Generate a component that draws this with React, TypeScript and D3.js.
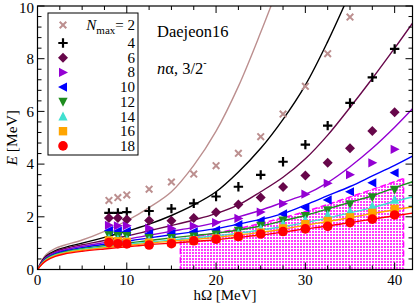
import React from "react";
import * as d3 from "d3";

const hw = [8, 9, 10, 12.5, 15, 17.5, 20, 22.5, 25, 27.5, 30, 32.5, 35, 37.5, 40];
const nmax = [2, 4, 6, 8, 10, 12, 14, 16, 18];
const colors = ["#bc8f8f", "#000000", "#67074a", "#9400d3", "#0000ff", "#1e8c1e", "#40e0d0", "#ffa500", "#ff0000"];

// marker values (E in MeV) at hw values; null = off chart
const pts2 = [2.62, 2.73, 2.83, 3.05, 3.32, 3.62, 3.94, 4.41, 5.04, 5.9, 6.95, 8.19, 9.58, null, null];
const pts4 = [2.15, 2.15, 2.18, 2.22, 2.31, 2.51, 2.77, 3.14, 3.59, 4.09, 4.74, 5.46, 6.32, 7.29, 8.37];
const pts6 = [1.95, 1.95, 1.9, 1.86, 1.85, 1.95, 2.17, 2.47, 2.73, 3.13, 3.57, 4.05, 4.6, 5.26, 5.97];
const pts8 = [1.68, 1.66, 1.66, 1.57, 1.56, 1.65, 1.78, 1.94, 2.18, 2.5, 2.86, 3.27, 3.6, 4.05, 4.56];
const pts10 = [1.48, 1.46, 1.45, 1.36, 1.36, 1.43, 1.5, 1.7, 1.86, 2.11, 2.35, 2.64, 2.95, 3.29, 3.67];
const pts12 = [1.3, 1.27, 1.27, 1.2, 1.2, 1.25, 1.33, 1.47, 1.66, 1.86, 2.03, 2.25, 2.48, 2.74, 3.03];
const pts14 = [1.18, 1.15, 1.13, 1.1, 1.1, 1.15, 1.22, 1.38, 1.54, 1.72, 1.88, 2.07, 2.2, 2.4, 2.65];
const pts16 = [1.1, 1.07, 1.05, 1.02, 1.03, 1.1, 1.17, 1.27, 1.4, 1.56, 1.72, 1.84, 1.98, 2.15, 2.3];
const pts18 = [1.02, 0.98, 0.97, 0.93, 0.98, 1.09, 1.15, 1.25, 1.35, 1.44, 1.54, 1.64, 1.78, 1.91, 2.07];
const points = [pts2, pts4, pts6, pts8, pts10, pts12, pts14, pts16, pts18];

// curve sample positions and values
const cx = [0, 0.5, 1, 2, 3, 5, 7.5, 10, 12.5, 15, 17.5, 20, 22.5, 25, 27.5, 30, 32.5, 35, 37.5, 40, 42];
const cur2 = [0, 0.35, 0.58, 0.8, 0.92, 1.12, 1.45, 1.85, 2.35, 2.95, 3.95, 5.25, 6.95, 9.0, 11.2, null, null, null, null, null, null];
const cur4 = [0, 0.32, 0.52, 0.72, 0.83, 1.0, 1.22, 1.45, 1.72, 2.05, 2.45, 2.95, 3.7, 4.6, 5.7, 7.0, 8.65, 10.5, 12.4, null, null];
const cur6 = [0, 0.3, 0.49, 0.68, 0.79, 0.94, 1.1, 1.27, 1.47, 1.67, 1.88, 2.12, 2.45, 2.95, 3.5, 4.2, 5.1, 6.15, 7.25, 8.4, 9.35];
const cur8 = [0, 0.28, 0.46, 0.64, 0.74, 0.88, 1.02, 1.15, 1.3, 1.45, 1.6, 1.78, 2.0, 2.25, 2.55, 2.85, 3.3, 3.9, 4.6, 5.4, 6.1];
const cur10 = [0, 0.26, 0.43, 0.6, 0.7, 0.83, 0.96, 1.07, 1.2, 1.32, 1.43, 1.55, 1.72, 1.9, 2.12, 2.45, 2.8, 3.15, 3.55, 3.95, 4.3];
const cur12 = [0, 0.24, 0.41, 0.57, 0.67, 0.79, 0.9, 1.0, 1.1, 1.2, 1.29, 1.38, 1.5, 1.65, 1.85, 2.05, 2.3, 2.55, 2.8, 3.1, 3.33];
const cur14 = [0, 0.23, 0.39, 0.55, 0.64, 0.76, 0.86, 0.95, 1.04, 1.12, 1.2, 1.28, 1.38, 1.5, 1.63, 1.78, 1.95, 2.15, 2.35, 2.58, 2.75];
const cur16 = [0, 0.22, 0.37, 0.53, 0.62, 0.73, 0.83, 0.91, 1.0, 1.07, 1.14, 1.22, 1.31, 1.41, 1.53, 1.68, 1.82, 1.97, 2.12, 2.27, 2.37];
const cur18 = [0, 0.2, 0.34, 0.5, 0.59, 0.69, 0.78, 0.86, 0.94, 1.0, 1.06, 1.13, 1.22, 1.31, 1.42, 1.54, 1.65, 1.78, 1.91, 2.04, 2.14];
const curves = [cur2, cur4, cur6, cur8, cur10, cur12, cur14, cur16, cur18];

// magenta band (hw range and upper boundary)
const bandX = [16, 20, 25, 30, 35, 41];
const bandTop = [1.15, 1.38, 1.75, 2.2, 2.75, 3.45];

const xTicks = [0, 10, 20, 30, 40];
const yTicks = [0, 2, 4, 6, 8, 10];

const W = 415, H = 303;
const m = { l: 37.5, r: 412.5, t: 6, b: 269.5 };
const FONT = "Liberation Serif, DejaVu Serif, Times New Roman, serif";

function marker(i: number, x: number, y: number, c: string, key: string) {
  const s = 4.6;
  switch (i) {
    case 0:
      return <path key={key} d={`M${x - 3.3},${y - 3.3}L${x + 3.3},${y + 3.3}M${x - 3.3},${y + 3.3}L${x + 3.3},${y - 3.3}`} stroke={c} strokeWidth={2} fill="none" />;
    case 1:
      return <path key={key} d={`M${x - 4.7},${y}L${x + 4.7},${y}M${x},${y - 4.7}L${x},${y + 4.7}`} stroke={c} strokeWidth={2.2} fill="none" />;
    case 2:
      return <path key={key} d={`M${x},${y - 5}L${x + 5},${y}L${x},${y + 5}L${x - 5},${y}Z`} fill={c} />;
    case 3:
      return <path key={key} d={`M${x - 4},${y - s}L${x + 5},${y}L${x - 4},${y + s}Z`} fill={c} />;
    case 4:
      return <path key={key} d={`M${x + 4},${y - s}L${x - 5},${y}L${x + 4},${y + s}Z`} fill={c} />;
    case 5:
      return <path key={key} d={`M${x - s},${y - 4}L${x + s},${y - 4}L${x},${y + 5}Z`} fill={c} />;
    case 6:
      return <path key={key} d={`M${x - s},${y + 4}L${x + s},${y + 4}L${x},${y - 5}Z`} fill={c} />;
    case 7:
      return <rect key={key} x={x - 4.2} y={y - 4.2} width={8.4} height={8.4} fill={c} />;
    default:
      return <circle key={key} cx={x} cy={y} r={4.8} fill={c} />;
  }
}

export default function App() {
  const xs = d3.scaleLinear().domain([0, 42]).range([m.l, m.r]);
  const ys = d3.scaleLinear().domain([0, 10]).range([m.b, m.t]);
  const line = d3
    .line<[number, number]>()
    .x((d) => xs(d[0]))
    .y((d) => ys(d[1]))
    .curve(d3.curveCatmullRom.alpha(0.5));

  const bandPts: [number, number][] = bandX.map((x, i) => [x, bandTop[i]]);
  const bandArea = d3
    .area<[number, number]>()
    .x((d) => xs(d[0]))
    .y0(ys(0))
    .y1((d) => ys(d[1]))
    .curve(d3.curveMonotoneX);

  const minorX = d3.range(0, 42.01, 2.5);
  const minorY = d3.range(0, 10.01, 0.4);

  const legY = nmax.map((_, i) => (i === 0 ? 25 : 43 + (i - 1) * 14.7));

  return (
    <svg width={W} height={H} style={{ position: "absolute", left: 0, top: 0 }} fontFamily={FONT}>
      <defs>
        <clipPath id="clip">
          <rect x={m.l} y={m.t} width={m.r - m.l} height={m.b - m.t} />
        </clipPath>
        <pattern id="dots" width={3} height={3} patternUnits="userSpaceOnUse">
          <rect width={3} height={3} fill="#ffffff" />
          <rect x={0} y={0} width={2} height={2} fill="#ff3cff" />
        </pattern>
      </defs>
      <rect width={W} height={H} fill="#fff" />
      <g clipPath="url(#clip)">
        <path d={bandArea(bandPts) || ""} fill="url(#dots)" />
        <path d={line(bandPts) || ""} fill="none" stroke="#ff00ff" strokeWidth={1.5} strokeDasharray="6,3" />
        <line x1={xs(bandX[0])} x2={xs(bandX[0])} y1={ys(bandTop[0])} y2={ys(0)} stroke="#ff00ff" strokeWidth={1.5} strokeDasharray="6,3" />
        <line x1={xs(bandX[bandX.length - 1])} x2={xs(bandX[bandX.length - 1])} y1={ys(bandTop[bandTop.length - 1])} y2={ys(0)} stroke="#ff00ff" strokeWidth={1.5} strokeDasharray="6,3" />
        {curves.map((cv, i) => {
          const p: [number, number][] = [];
          cv.forEach((v, j) => {
            if (v !== null) p.push([cx[j], v]);
          });
          return <path key={"c" + i} d={line(p) || ""} fill="none" stroke={colors[i]} strokeWidth={1.4} />;
        })}
        {points.map((ps, i) =>
          ps.map((v, j) => (v === null ? null : marker(i, xs(hw[j]), ys(v), colors[i], `m${i}-${j}`)))
        )}
      </g>
      {/* frame */}
      <rect x={m.l} y={m.t} width={m.r - m.l} height={m.b - m.t} fill="none" stroke="#000" strokeWidth={1.2} />
      {minorX.map((v) => {
        const major = v % 10 === 0;
        const L = major ? 7 : 4;
        return (
          <g key={"tx" + v}>
            <line x1={xs(v)} x2={xs(v)} y1={m.b} y2={m.b - L} stroke="#000" strokeWidth={1} />
            <line x1={xs(v)} x2={xs(v)} y1={m.t} y2={m.t + L} stroke="#000" strokeWidth={1} />
          </g>
        );
      })}
      {minorY.map((v) => {
        const major = Math.abs(v / 2 - Math.round(v / 2)) < 1e-6;
        const L = major ? 7 : 4;
        return (
          <g key={"ty" + v}>
            <line x1={m.l} x2={m.l + L} y1={ys(v)} y2={ys(v)} stroke="#000" strokeWidth={1} />
            <line x1={m.r} x2={m.r - L} y1={ys(v)} y2={ys(v)} stroke="#000" strokeWidth={1} />
          </g>
        );
      })}
      {xTicks.map((v) => (
        <text key={"xl" + v} x={xs(v)} y={284.5} textAnchor="middle" fontSize={15}>
          {v}
        </text>
      ))}
      {yTicks.map((v) => (
        <text key={"yl" + v} x={34} y={Math.max(ys(v) + 5.3, 13)} textAnchor="end" fontSize={15}>
          {v}
        </text>
      ))}
      <text x={xs(21)} y={300} textAnchor="middle" fontSize={15}>
        hΩ [MeV]
      </text>
      <text transform={`translate(17,${ys(5)}) rotate(-90)`} textAnchor="middle" fontSize={15.5}>
        <tspan fontStyle="italic">E</tspan> [MeV]
      </text>
      {/* legend */}
      <rect x={48} y={13} width={90} height={142} fill="#fff" stroke="#000" strokeWidth={1} />
      {nmax.map((n, i) => (
        <g key={"lg" + n}>
          {marker(i, 63, legY[i], colors[i], "lm" + i)}
          {i === 0 ? (
            <text x={135} y={legY[i] + 5} textAnchor="end" fontSize={15}>
              <tspan fontStyle="italic">N</tspan>
              <tspan fontSize={11} dy={4}>max</tspan>
              <tspan dy={-4}>= {n}</tspan>
            </text>
          ) : (
            <text x={135} y={legY[i] + 5} textAnchor="end" fontSize={15}>
              {n}
            </text>
          )}
        </g>
      ))}
      <text x={157} y={37} fontSize={16.5}>Daejeon16</text>
      <text x={157} y={74} fontSize={16.5}>
        <tspan fontStyle="italic">n</tspan>α, 3/2<tspan fontSize={10} dy={-8}>-</tspan>
      </text>
    </svg>
  );
}
